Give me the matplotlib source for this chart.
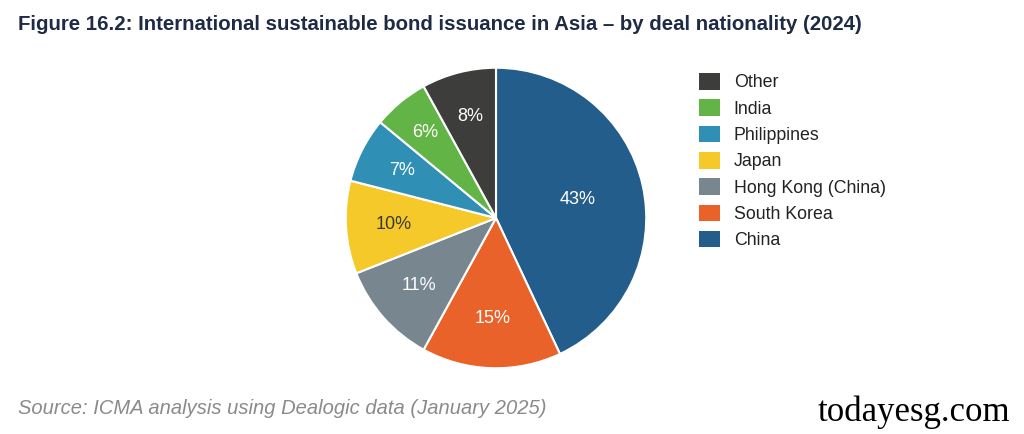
import matplotlib
matplotlib.use("Agg")
import matplotlib.pyplot as plt
import matplotlib.patches as mpatches
import numpy as np

categories = ["China", "South Korea", "Hong Kong (China)", "Japan", "Philippines", "India", "Other"]
shares = [43, 15, 11, 10, 7, 6, 8]
colors = ["#235D8C", "#E8622A", "#78878F", "#F6C92B", "#2F8FB4", "#62B446", "#3D3D3B"]
label_colors = ["white", "white", "white", "#3a3a2a", "white", "white", "white"]
label_dist = [0.56, 0.67, 0.68, 0.68, 0.70, 0.74, 0.70]

W, H = 1024, 434
fig = plt.figure(figsize=(W / 100, H / 100), dpi=100)
fig.patch.set_facecolor("white")

ax = fig.add_axes([345 / W, (H - 369) / H, 302 / W, 302 / H])
wedges, _ = ax.pie(shares, colors=colors, startangle=90, counterclock=False,
                   radius=1.0, wedgeprops=dict(edgecolor="white", linewidth=1.5))
ax.set_xlim(-1.005, 1.005)
ax.set_ylim(-1.005, 1.005)
ax.set_aspect("equal")
ax.axis("off")

for w, s, c, d in zip(wedges, shares, label_colors, label_dist):
    ang = np.deg2rad((w.theta1 + w.theta2) / 2)
    ax.text(d * np.cos(ang), d * np.sin(ang), f"{s}%", ha="center", va="center",
            color=c, fontsize=13, family="Liberation Sans")

# legend (reverse order, Other at top)
order = list(range(len(categories)))[::-1]
handles = [mpatches.Patch(facecolor=colors[i], edgecolor="none") for i in order]
labels = [categories[i] for i in order]
leg = fig.legend(handles, labels, loc="upper left", bbox_to_anchor=(692 / W, 1 - 66 / H),
                 frameon=False, prop=dict(family="Liberation Sans", size=12.8),
                 handlelength=1.2, handleheight=1.05, handletextpad=0.75, labelspacing=0.45,
                 borderaxespad=0)
for t in leg.get_texts():
    t.set_color("#222222")

fig.text(18 / W, 1 - 24 / H, "Figure 16.2: International sustainable bond issuance in Asia – by deal nationality (2024)",
         ha="left", va="center", fontsize=14.7, color="#1F2A44", family="Liberation Sans", weight="bold")
fig.text(18 / W, 1 - 408 / H, "Source: ICMA analysis using Dealogic data (January 2025)",
         ha="left", va="center", fontsize=14.5, color="#8a8a8a", family="Liberation Sans", style="italic")
fig.text(1010 / W, 1 - 412 / H, "todayesg.com", ha="right", va="center", fontsize=25,
         color="black", family="Liberation Serif")

fig.savefig("out.png", dpi=100, facecolor="white")
